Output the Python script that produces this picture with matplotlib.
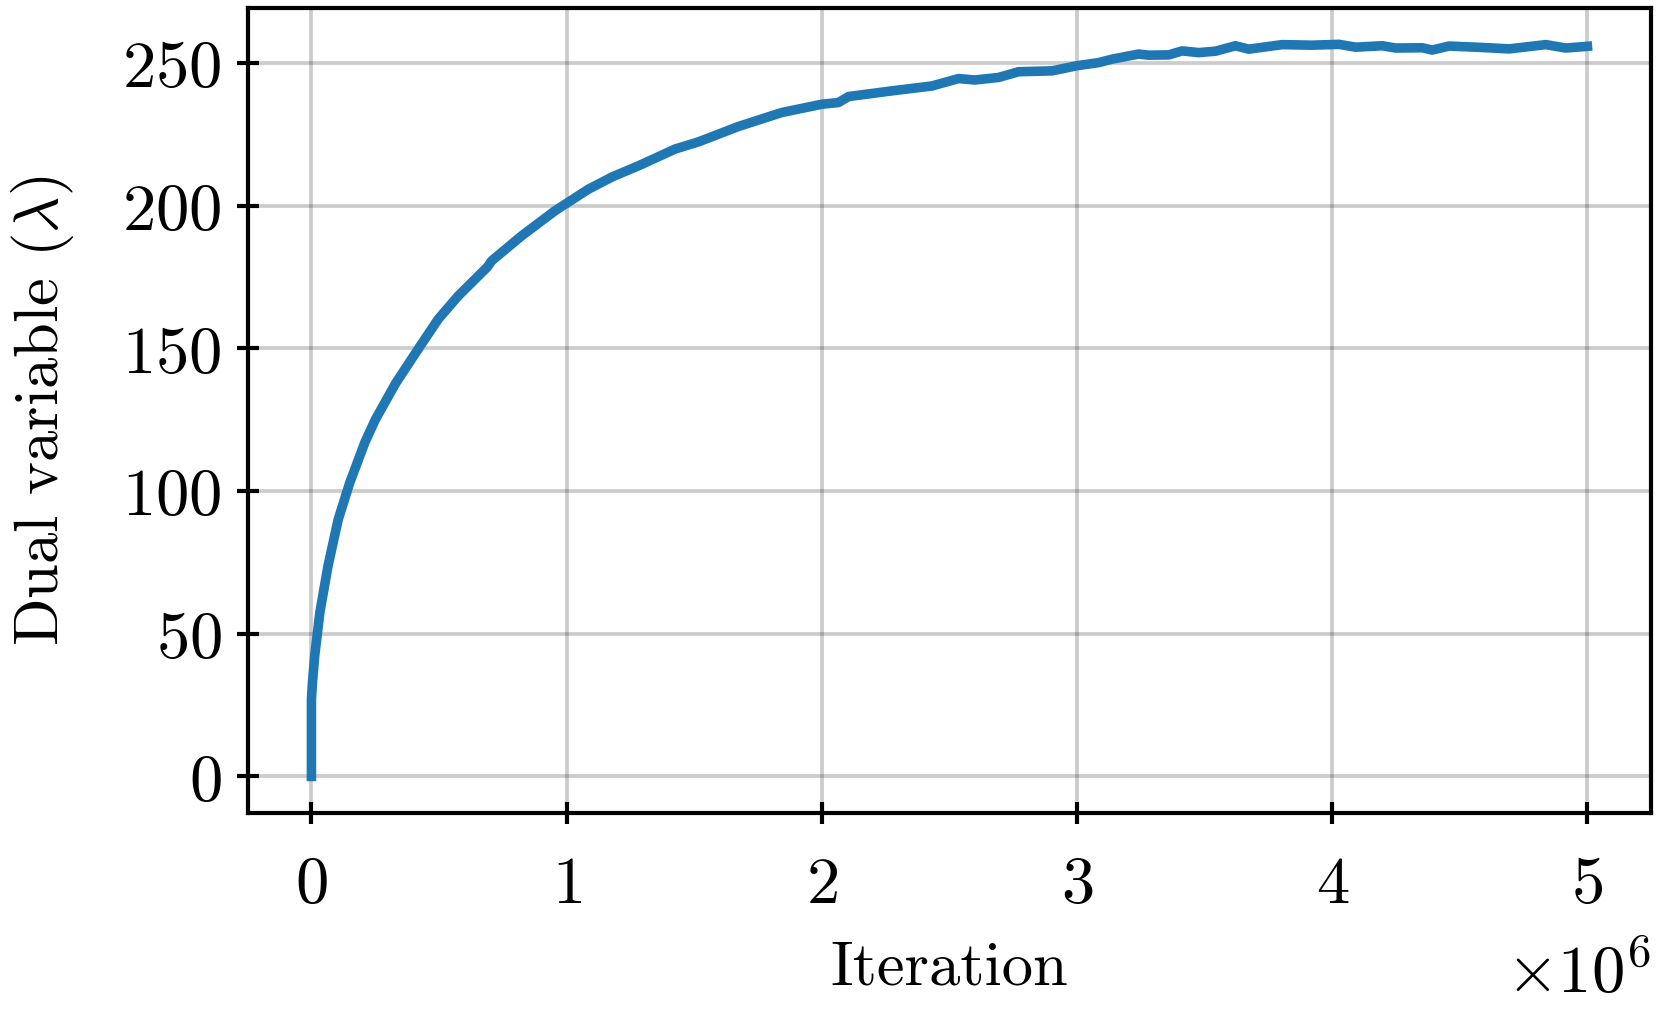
import numpy as np
import matplotlib
matplotlib.use("Agg")
import matplotlib.pyplot as plt
from matplotlib.transforms import ScaledTranslation

# Datos (iteraciones en millones)
iteration_m = [0.0, 0.0, 0.004, 0.013, 0.033, 0.065, 0.105, 0.15, 0.209, 0.25,
               0.33, 0.425, 0.497, 0.575, 0.69, 0.706, 0.824, 0.955,
               1.085, 1.18, 1.281, 1.425, 1.516, 1.647, 1.673, 1.843, 2.0, 2.065, 2.105,
               2.275, 2.431, 2.536, 2.6, 2.693, 2.771, 2.902, 3.0, 3.085, 3.137,
               3.242, 3.281, 3.359, 3.412, 3.477, 3.543, 3.621, 3.673, 3.804, 3.92, 4.026,
               4.092, 4.196, 4.249, 4.353, 4.392, 4.458, 4.588, 4.693, 4.837, 4.915,
               5.0]
dual_lambda = [0.0, 27.0, 33.0, 42.4, 57.5, 73.8, 90.1, 102.9, 117.0, 125.0,
               137.8, 150.7, 160.3, 168.4, 178.6, 180.7, 189.5, 198.3,
               205.8, 210.2, 214.0, 219.9, 222.4, 226.9, 227.8, 232.7, 235.6, 236.2, 238.3,
               240.3, 242.0, 244.6, 244.1, 245.0, 247.0, 247.3, 249.1, 250.2, 251.4,
               253.2, 252.8, 252.9, 254.3, 253.7, 254.2, 256.1, 254.9, 256.5, 256.3, 256.6,
               255.6, 256.1, 255.3, 255.4, 254.6, 256.0, 255.5, 255.0, 256.5, 255.3,
               255.9]

plt.rcParams["font.family"] = "serif"
plt.rcParams["font.serif"] = ["cmr10"]
plt.rcParams["mathtext.fontset"] = "cm"
plt.rcParams["axes.formatter.use_mathtext"] = True
plt.rcParams["axes.unicode_minus"] = False

fig = plt.figure(figsize=(5.54, 3.383), dpi=300)
ax = fig.add_axes([0.149, 0.198, 0.8445, 0.7935])

ax.plot(np.array(iteration_m) * 1e6, dual_lambda, color="#1f77b4", linewidth=2.3)

ax.set_xlabel("Iteration", fontsize=15, labelpad=6)
ax.set_ylabel(r"Dual variable ($\lambda$)", fontsize=15, labelpad=11)
ax.grid(True, color="black", alpha=0.2, linewidth=0.9)
ax.tick_params(direction="inout", length=5.5, width=1.0, labelsize=16)
ax.tick_params(axis="x", pad=7.5)
for s in ax.spines.values():
    s.set_linewidth(1.0)

# bajar un poco el x10^6
off = ax.xaxis.get_offset_text()
off.set_fontsize(16)
off.set_transform(off.get_transform() + ScaledTranslation(0, -3.5 / 72, fig.dpi_scale_trans))

fig.savefig("out.png", dpi=300)
